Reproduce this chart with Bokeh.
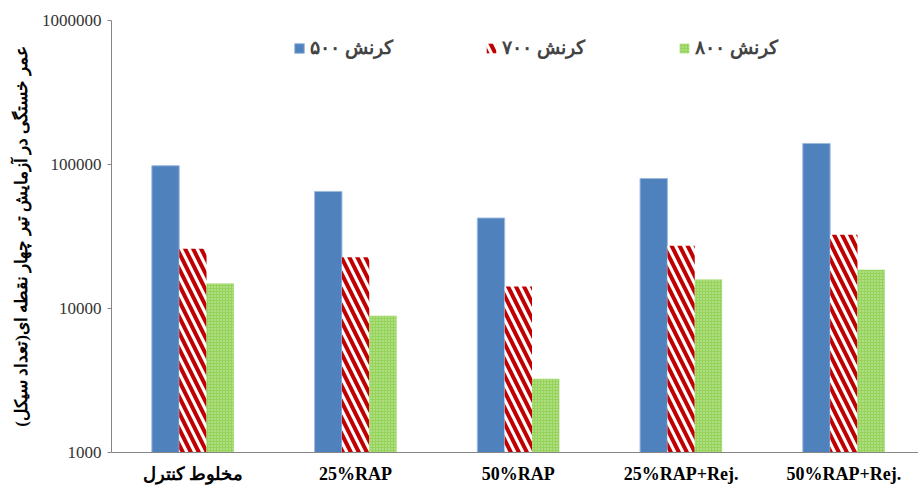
from bokeh.plotting import figure
from bokeh.models import Range1d, FixedTicker, Legend, LegendItem, ColumnDataSource
from bokeh.embed import file_html
from bokeh.resources import INLINE

categories = ["مخلوط کنترل", "25%RAP", "50%RAP", "25%RAP+Rej.", "50%RAP+Rej."]
series_names = ["کرنش ۵۰۰", "کرنش ۷۰۰", "کرنش ۸۰۰"]
s500 = [98000, 65000, 42500, 80000, 140000]
s700 = [26000, 22700, 14200, 27300, 32500]
s800 = [14900, 8900, 3250, 15900, 18600]
y_ticks = [1000, 10000, 100000, 1000000]
y_tick_labels = ["1000", "10000", "100000", "1000000"]
y_label = "عمر خستگی در آزمایش تیر چهار نقطه ای(تعداد سیکل)"

idx = list(range(len(categories)))
bw = 0.168

p = figure(width=918, height=491, output_backend="svg", toolbar_location=None,
           y_axis_type="log", x_range=Range1d(-0.5, 4.459), y_range=Range1d(1000, 1000000),
           min_border_left=111, min_border_right=0, min_border_top=20, min_border_bottom=39,
           frame_width=807, frame_height=432)
p.outline_line_color = None
p.xgrid.visible = False
p.ygrid.visible = False
p.background_fill_color = "white"

src = ColumnDataSource(dict(
    x0=[i - bw for i in idx], x1=idx, x2=[i + bw for i in idx],
    v500=s500, v700=s700, v800=s800))

r1 = p.vbar(x="x0", top="v500", bottom=1000, width=bw, source=src,
            fill_color="#4F81BD", line_color="#9DB9DE", line_width=1)
r2 = p.vbar(x="x1", top="v700", bottom=1000, width=bw, source=src,
            fill_color="white", line_color=None,
            hatch_pattern="\\", hatch_color="#C00000", hatch_weight=4, hatch_scale=16)
r3 = p.vbar(x="x2", top="v800", bottom=1000, width=bw, source=src,
            fill_color="#95D35A", line_color=None,
            hatch_pattern=".", hatch_color="#DDF2C8", hatch_weight=1, hatch_scale=3, hatch_alpha=0.9)

# axes
p.xaxis.ticker = FixedTicker(ticks=idx)
p.xaxis.major_label_overrides = {i: c for i, c in zip(idx, categories)}
p.xaxis.major_tick_line_color = None
p.xaxis.minor_tick_line_color = None
p.xaxis.axis_line_color = "#868686"
p.xaxis.major_label_text_font = "Liberation Serif"
p.xaxis.major_label_text_font_style = "bold"
p.xaxis.major_label_text_font_size = "18px"
p.xaxis.major_label_text_color = "black"
p.xaxis.major_label_standoff = 5

p.yaxis.ticker = FixedTicker(ticks=y_ticks, minor_ticks=[])
p.yaxis.major_label_overrides = {t: l for t, l in zip(y_ticks, y_tick_labels)}
p.yaxis.axis_line_color = "#868686"
p.yaxis.major_tick_line_color = "#868686"
p.yaxis.major_tick_out = 4
p.yaxis.major_tick_in = 0
p.yaxis.minor_tick_line_color = None
p.yaxis.major_label_text_font = "Liberation Serif"
p.yaxis.major_label_text_font_size = "17px"
p.yaxis.major_label_text_color = "#333333"
p.yaxis.major_label_standoff = 6
p.yaxis.axis_label = y_label
p.yaxis.axis_label_text_font = "Liberation Serif"
p.yaxis.axis_label_text_font_style = "bold"
p.yaxis.axis_label_text_font_size = "17px"
p.yaxis.axis_label_text_color = "black"
p.yaxis.axis_label_standoff = 8

# legends, one per series
locs = [(182, 393), (374, 393), (567, 393)]
for r, name, loc in zip([r1, r2, r3], series_names, locs):
    lg = Legend(items=[LegendItem(label=name, renderers=[r])], location=loc,
                orientation="horizontal", padding=0, margin=0,
                border_line_color=None, background_fill_alpha=0,
                glyph_width=12, glyph_height=12, label_standoff=5,
                label_text_font="Liberation Serif", label_text_font_style="bold",
                label_text_font_size="19px", label_height=22)
    p.add_layout(lg, "center")

open("out.html", "w").write(file_html(p, INLINE))
